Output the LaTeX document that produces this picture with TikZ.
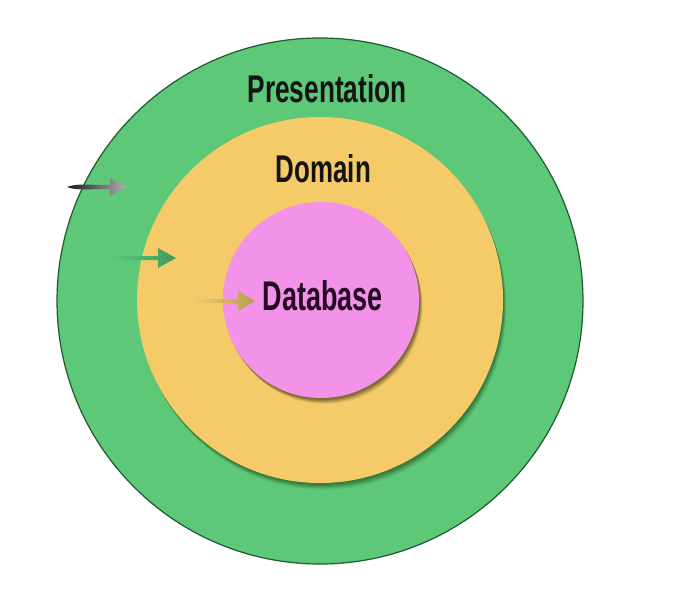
\documentclass[tikz,border=0pt]{standalone}
\usepackage{fontspec}
\setmainfont{Liberation Sans}
\usetikzlibrary{calc}
\definecolor{presgreen}{HTML}{5DC878}
\definecolor{presedge}{HTML}{1F5A30}
\definecolor{domyellow}{HTML}{F5CB69}
\definecolor{dbpink}{HTML}{F292E8}
\definecolor{txtdark}{HTML}{141414}
\definecolor{dbtxt}{HTML}{240A22}
\definecolor{greenarrow}{HTML}{3E9A5C}
\definecolor{tanarrow}{HTML}{B59E52}
\definecolor{shadowgreen}{HTML}{2F6A32}
\definecolor{shadowbrown}{HTML}{6E5A28}
\tikzset{
  layer/.style={circle, inner sep=0pt, minimum size=#1},
  lbl/.style={inner sep=0pt, font=\bfseries},
}
\newcommand{\labeltext}[3]{\resizebox{#1pt}{#2pt}{#3}}
\begin{document}
\begin{tikzpicture}[x=1pt,y=-1pt]
\useasboundingbox (0,0) rectangle (684,588);
\fill[white] (0,0) rectangle (684,588);
% outer layer
\node[layer=526pt, fill=presgreen, draw=presedge, line width=1.2pt] (pres) at (320,301) {};
% shadow of domain layer
\foreach \o/\op in {7/0.08,6/0.12,5/0.16,4/0.22,3/0.3,2/0.4}{
  \fill[shadowgreen, opacity=\op] ($(320,300)+(0.5*\o,\o)$) circle[radius=183pt];
}
\node[layer=366pt, fill=domyellow] (dom) at (320,300) {};
% shadow of database layer
\foreach \o/\op in {6/0.12,5/0.18,4/0.25,3/0.35,2/0.5}{
  \fill[shadowbrown, opacity=\op] ($(321,300)+(0.6*\o,\o)$) circle[radius=98pt];
}
\node[layer=196pt, fill=dbpink] (db) at (321,300) {};
% labels
\node[lbl, text=txtdark] (tpres) at (327,89) {\labeltext{159}{28}{Presentation}};
\node[lbl, text=txtdark] (tdom) at (323.5,169) {\labeltext{95}{28}{Domain}};
\node[lbl, text=dbtxt] (tdb) at (323,296) {\labeltext{120}{30}{Database}};
% arrows
\coordinate (a1t) at (67,187);
\coordinate (a1h) at (127,187);
\coordinate (a2t) at (112,258);
\coordinate (a2h) at (176,258);
\coordinate (a3t) at (192,301);
\coordinate (a3h) at (255,301);
\shade[left color=black!90, right color=black!30]
  (a1t) .. controls ($(a1t)+(8,-2.5)$) .. ($(a1t)+(30,-2.2)$) -- ($(a1h)+(-17,-2)$) -- ($(a1h)+(-17,-9)$) -- (a1h) -- ($(a1h)+(-17,9)$) -- ($(a1h)+(-17,2)$) -- ($(a1t)+(30,2.2)$) .. controls ($(a1t)+(8,2.5)$) .. (a1t) -- cycle;
\shade[left color=presgreen, right color=greenarrow]
  ($(a2t)+(0,-2)$) -- ($(a2h)+(-18,-2)$) -- ($(a2h)+(-18,-10)$) -- (a2h) -- ($(a2h)+(-18,10)$) -- ($(a2h)+(-18,2)$) -- ($(a2t)+(0,2)$) -- cycle;
\shade[left color=domyellow, right color=tanarrow]
  ($(a3t)+(0,-2)$) -- ($(a3h)+(-17,-2)$) -- ($(a3h)+(-17,-10)$) -- (a3h) -- ($(a3h)+(-17,10)$) -- ($(a3h)+(-17,2)$) -- ($(a3t)+(0,2)$) -- cycle;
\end{tikzpicture}
\end{document}
